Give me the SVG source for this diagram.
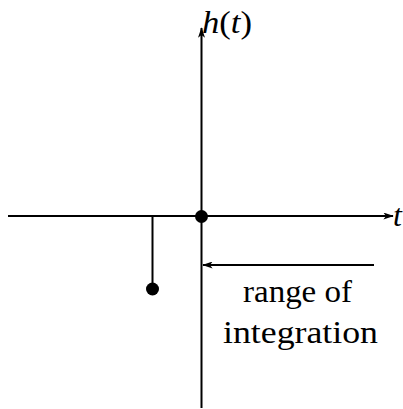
<svg xmlns="http://www.w3.org/2000/svg" width="403" height="409" viewBox="0 0 403 409">
<style>
.ax{stroke:#000;stroke-width:2;fill:none}
.lbl{font-family:"Liberation Serif","DejaVu Serif",serif;font-size:32px;fill:#000}
</style>
<defs>
<marker id="ah" viewBox="0 0 12 8" refX="11" refY="4" markerWidth="11" markerHeight="7" markerUnits="userSpaceOnUse" orient="auto">
<path d="M0,0 L12,4 L0,8 L3,4 Z" fill="#000"/>
</marker>
</defs>
<rect width="403" height="409" fill="#fff"/>
<g id="connectors">
<line class="ax" x1="201.5" y1="408" x2="201.5" y2="28" marker-end="url(#ah)"/>
<line class="ax" x1="8" y1="216" x2="393" y2="216" marker-end="url(#ah)"/>
<line class="ax" x1="152.5" y1="216" x2="152.5" y2="289"/>
<line class="ax" x1="374" y1="265" x2="203" y2="265" marker-end="url(#ah)"/>
</g>
<g id="origin"><circle cx="201.5" cy="216.5" r="6.5" fill="#000"/></g>
<g id="impulse"><circle cx="152.5" cy="289" r="6.5" fill="#000"/></g>
<g id="label-h"><text class="lbl" x="202" y="33" textLength="50" lengthAdjust="spacingAndGlyphs"><tspan font-style="italic">h</tspan>(<tspan font-style="italic">t</tspan>)</text></g>
<g id="label-t"><text class="lbl" x="393" y="226" font-style="italic">t</text></g>
<g id="label-range"><text class="lbl" x="243" y="302" textLength="109" lengthAdjust="spacingAndGlyphs">range of</text>
<text class="lbl" x="223" y="343" textLength="155" lengthAdjust="spacingAndGlyphs">integration</text></g>
</svg>
